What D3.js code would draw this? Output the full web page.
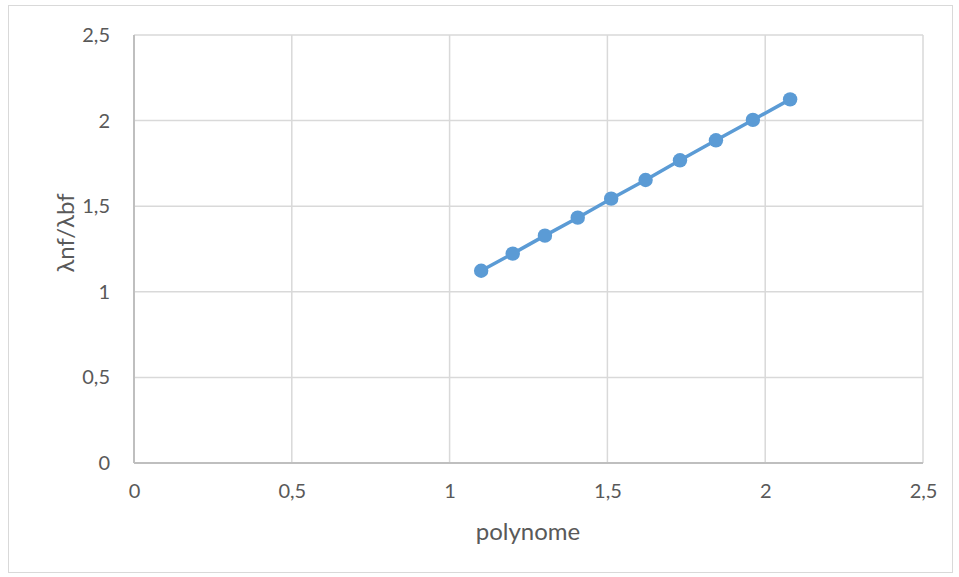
<!DOCTYPE html>
<html><head><meta charset="utf-8">
<script src="https://cdn.jsdelivr.net/npm/d3@7"></script>
<style>body{margin:0;background:#fff}svg{display:block}</style>
</head><body>
<script>
const xValues = [1.10, 1.20, 1.302, 1.406, 1.512, 1.621, 1.730, 1.844, 1.961, 2.079];
const yValues = [1.123, 1.223, 1.328, 1.433, 1.544, 1.653, 1.768, 1.885, 2.004, 2.124];
const xTicks = [0, 0.5, 1, 1.5, 2, 2.5];
const yTicks = [0, 0.5, 1, 1.5, 2, 2.5];
const xTitle = "polynome";
const yTitle = "λnf/λbf";

(function () {
const W = 959, H = 577;
const pLeft = 134, pRight = 923, pTop = 35, pBottom = 463;
const fmt = d => String(d).replace(".", ",");
const svg = d3.select("body").append("svg").attr("width", W).attr("height", H);
svg.append("rect").attr("x", 8.5).attr("y", 5.5).attr("width", 944).attr("height", 567)
  .attr("fill", "#fff").attr("stroke", "#d9d9d9");

const x = d3.scaleLinear().domain([0, 2.5]).range([pLeft, pRight]);
const y = d3.scaleLinear().domain([0, 2.5]).range([pBottom, pTop]);
const font = "Lato, 'Liberation Sans', Arial, sans-serif";

// grid
svg.append("g").selectAll("line").data(yTicks.filter(d => d > 0)).join("line")
  .attr("x1", pLeft).attr("x2", pRight).attr("y1", d => y(d)).attr("y2", d => y(d))
  .attr("stroke", "#d9d9d9").attr("stroke-width", 1.5);
svg.append("g").selectAll("line").data(xTicks.filter(d => d > 0)).join("line")
  .attr("y1", pTop).attr("y2", pBottom).attr("x1", d => x(d)).attr("x2", d => x(d))
  .attr("stroke", "#d9d9d9").attr("stroke-width", 1.5);

// axes
const xAxis = svg.append("g").attr("transform", `translate(0,${pBottom})`)
  .call(d3.axisBottom(x).tickValues(xTicks).tickFormat(fmt).tickSize(0).tickPadding(21));
const yAxis = svg.append("g").attr("transform", `translate(${pLeft},0)`)
  .call(d3.axisLeft(y).tickValues(yTicks).tickFormat(fmt).tickSize(0).tickPadding(24));
[xAxis, yAxis].forEach(g => {
  g.select(".domain").attr("stroke", "#bfbfbf").attr("stroke-width", 2);
  g.selectAll("text").attr("fill", "#595959").style("font-family", font).style("font-size", "20px");
});
xAxis.select(".domain").attr("d", `M${pLeft},0H${pRight}`);
yAxis.select(".domain").attr("d", `M0,${pBottom}V${pTop}`);

// titles
svg.append("text").attr("x", 528).attr("y", 540).attr("text-anchor", "middle")
  .attr("fill", "#595959").style("font-family", font).style("font-size", "24px").text(xTitle);
svg.append("text").attr("transform", `translate(66,233) rotate(-90)`).attr("text-anchor", "middle")
  .attr("dy", "0.35em")
  .attr("fill", "#595959").style("font-family", font).style("font-size", "24px").text(yTitle);

// series
const pts = xValues.map((v, i) => [v, yValues[i]]);
svg.append("path").datum(pts)
  .attr("d", d3.line().x(d => x(d[0])).y(d => y(d[1])))
  .attr("fill", "none").attr("stroke", "#5b9bd5").attr("stroke-width", 3.5).attr("stroke-linejoin", "round");
svg.append("g").selectAll("circle").data(pts).join("circle")
  .attr("cx", d => x(d[0])).attr("cy", d => y(d[1])).attr("r", 7.2).attr("fill", "#5b9bd5");
})();
</script>
</body></html>
